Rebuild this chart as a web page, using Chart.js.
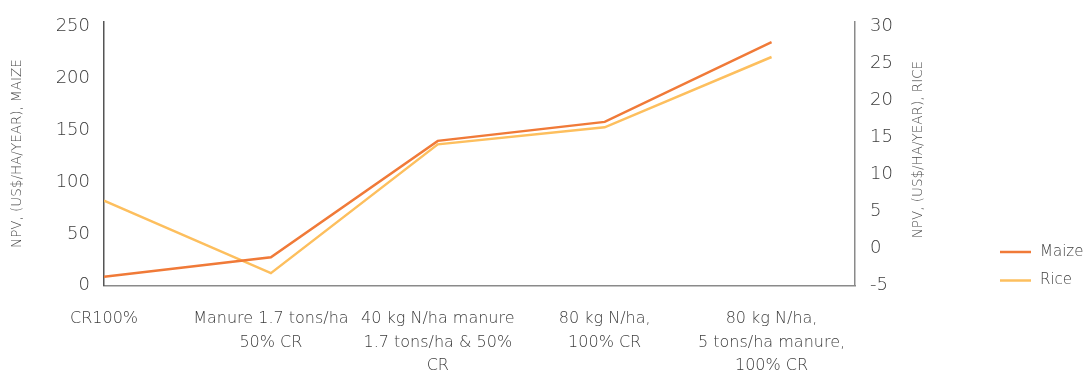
<!DOCTYPE html>
<html>
<head>
<meta charset="utf-8">
<script src="https://cdn.jsdelivr.net/npm/chart.js@4/dist/chart.umd.min.js"></script>
<style>
  html, body { margin: 0; padding: 0; background: #ffffff; }
  #wrap { width: 1084px; height: 375px; position: relative; }
</style>
</head>
<body>
<div id="wrap"><canvas id="npv"></canvas></div>
<script>
// Treatments along the x axis (each entry is one tick label, split into lines)
const categories = [
  ['CR100%'],
  ['Manure 1.7 tons/ha', '50% CR'],
  ['40 kg N/ha manure', '1.7 tons/ha & 50%', 'CR'],
  ['80 kg N/ha,', '100% CR'],
  ['80 kg N/ha,', '5 tons/ha manure,', '100% CR']
];

// Net present value, US$/ha/year
const maizeNPV = [8.7, 27.4, 139.8, 158.1, 235];
const riceNPV = [6.5, -3.3, 14.1, 16.4, 25.9];

// Axis tick values
const maizeTicks = [0, 50, 100, 150, 200, 250];
const riceTicks = [-5, 0, 5, 10, 15, 20, 25, 30];

const FONT = '"DejaVu Sans", "Liberation Sans", Arial, sans-serif';
const TEXT = '#3c3c3c';
const MAIZE_COLOR = '#f07a38';
const RICE_COLOR = '#fdbf5e';

const toPoints = arr => arr.map((v, i) => ({ x: i, y: v }));

// Right-hand axis title (reads bottom-to-top) and a line legend at the lower right
const extras = {
  id: 'extras',
  afterDraw(chart) {
    const ctx = chart.ctx;
    const area = chart.chartArea;
    ctx.save();
    ctx.fillStyle = '#4a4a4a';
    ctx.font = '300 13.5px ' + FONT;
    ctx.textAlign = 'center';
    ctx.textBaseline = 'middle';
    ctx.translate(918, (area.top + area.bottom) / 2 - 4);
    ctx.rotate(-Math.PI / 2);
    ctx.fillText('NPV, (US$/HA/YEAR), RICE', 0, 0);
    ctx.restore();

    ctx.save();
    ctx.font = '300 15px ' + FONT;
    ctx.textAlign = 'left';
    ctx.textBaseline = 'middle';
    chart.data.datasets.forEach((ds, i) => {
      const y = 252 + i * 28.5;
      ctx.strokeStyle = ds.borderColor;
      ctx.lineWidth = 2.5;
      ctx.beginPath();
      ctx.moveTo(1000, y);
      ctx.lineTo(1031, y);
      ctx.stroke();
      ctx.fillStyle = TEXT;
      ctx.fillText(ds.label, 1040, y);
    });
    ctx.restore();
  }
};

// Vertical axes take no extra room for their end labels
function fixVertical(width) {
  return scale => {
    scale.width = width;
    scale.paddingTop = 0;
    scale.paddingBottom = 0;
  };
}

new Chart(document.getElementById('npv'), {
  type: 'line',
  data: {
    datasets: [
      {
        label: 'Maize',
        data: toPoints(maizeNPV),
        yAxisID: 'yMaize',
        borderColor: MAIZE_COLOR,
        backgroundColor: MAIZE_COLOR,
        borderWidth: 2.5,
        pointRadius: 0,
        tension: 0
      },
      {
        label: 'Rice',
        data: toPoints(riceNPV),
        yAxisID: 'yRice',
        borderColor: RICE_COLOR,
        backgroundColor: RICE_COLOR,
        borderWidth: 2.5,
        pointRadius: 0,
        tension: 0
      }
    ]
  },
  options: {
    responsive: true,
    maintainAspectRatio: false,
    animation: false,
    layout: { padding: { top: 21.5, left: 0, right: 0, bottom: 0 } },
    plugins: {
      legend: { display: false },
      tooltip: { enabled: false }
    },
    scales: {
      x: {
        type: 'linear',
        min: 0,
        max: 4.5,
        afterBuildTicks(scale) {
          scale.ticks = categories.map((_, i) => ({ value: i }));
        },
        afterFit(scale) { scale.height = 89.3; },
        grid: { display: false, drawTicks: false },
        border: { display: true, color: '#8a8a8a', width: 1.5 },
        ticks: {
          autoSkip: false,
          maxRotation: 0,
          padding: 22,
          color: TEXT,
          font: { family: FONT, size: 16, weight: 300, lineHeight: 1.45 },
          callback: v => categories[v]
        }
      },
      yMaize: {
        type: 'linear',
        position: 'left',
        min: 0,
        max: 255,
        afterFit: fixVertical(104),
        afterBuildTicks(scale) {
          scale.ticks = maizeTicks.map(v => ({ value: v }));
        },
        grid: { display: false, drawTicks: false },
        border: { display: true, color: '#555555', width: 1.5 },
        ticks: {
          padding: 14,
          color: TEXT,
          font: { family: FONT, size: 18, weight: 300 }
        },
        title: {
          display: true,
          text: 'NPV, (US$/HA/YEAR), MAIZE',
          color: '#4a4a4a',
          font: { family: FONT, size: 13.5, weight: 300 },
          padding: { top: 9, bottom: 0 }
        }
      },
      yRice: {
        type: 'linear',
        position: 'right',
        min: -5,
        max: 30.7,
        afterFit: fixVertical(229),
        afterBuildTicks(scale) {
          scale.ticks = riceTicks.map(v => ({ value: v }));
        },
        grid: { display: false, drawTicks: false },
        border: { display: true, color: '#8a8a8a', width: 1.5 },
        ticks: {
          padding: 15,
          color: TEXT,
          font: { family: FONT, size: 18, weight: 300 }
        }
      }
    }
  },
  plugins: [extras]
});
</script>
</body>
</html>
